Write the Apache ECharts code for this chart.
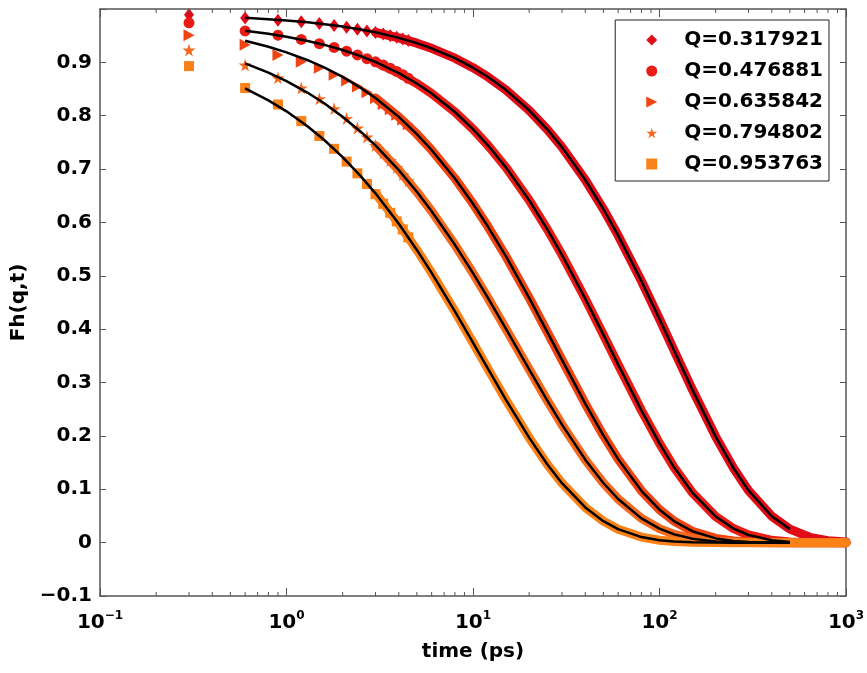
<!DOCTYPE html>
<html><head><meta charset="utf-8">
<script src="https://cdn.jsdelivr.net/npm/echarts@6/dist/echarts.min.js"></script>
<style>html,body{margin:0;padding:0;background:#fff}#c{width:867px;height:673px}</style>
</head><body><div id="c"></div>
<script>
// ---- data ----
const seriesNames = ['Q=0.317921','Q=0.476881','Q=0.635842','Q=0.794802','Q=0.953763'];
const seriesColors = ['#e00c18','#ea1c16','#f04412','#f6681e','#fa8018'];

// early (resolved) data points, time in ps
const tEarly = [0.3,0.6,0.9,1.2,1.5,1.8,2.1,2.4,2.7,3.0,3.3,3.6,3.9,4.2,4.5];
const dataQ1 = [0.989,0.983,0.979,0.976,0.973,0.969,0.966,0.962,0.959,0.956,0.953,0.950,0.947,0.944,0.941];
const dataQ2 = [0.974,0.959,0.951,0.943,0.935,0.928,0.921,0.914,0.907,0.901,0.895,0.889,0.883,0.877,0.870];
const dataQ3 = [0.951,0.933,0.914,0.901,0.890,0.877,0.866,0.855,0.844,0.833,0.822,0.812,0.802,0.793,0.784];
const dataQ4 = [0.923,0.895,0.871,0.852,0.832,0.813,0.795,0.777,0.760,0.744,0.730,0.716,0.703,0.690,0.678];
const dataQ5 = [0.893,0.852,0.821,0.790,0.762,0.738,0.714,0.692,0.672,0.653,0.635,0.618,0.602,0.587,0.572];

// curve samples (dense data band and fits), time in ps
const tCurve = [0.6,0.8,1,1.3,1.6,2,2.5,3,4,5,6,8,10,12,15,20,25,30,40,50,60,80,100,120,150,200,250,300,400,500,650,800,1000];
const curveQ1 = [0.9835,0.9810,0.9785,0.9750,0.9715,0.9670,0.9616,0.9563,0.9459,0.9360,0.9263,0.9078,0.8900,0.8730,0.8485,0.8102,0.7746,0.7412,0.6799,0.6252,0.5757,0.4902,0.4191,0.3594,0.2868,0.1987,0.1390,0.0979,0.0494,0.0253,0.0095,0.0037,0.0011];
const curveQ2 = [0.9592,0.9535,0.9480,0.9402,0.9327,0.9231,0.9117,0.9007,0.8799,0.8603,0.8417,0.8070,0.7749,0.7450,0.7035,0.6418,0.5875,0.5393,0.4570,0.3897,0.3338,0.2478,0.1859,0.1407,0.0938,0.0490,0.0262,0.0143,0.0044,0.0014,0.0003,0.0001,0];
const curveQ3 = [0.9405,0.9293,0.9188,0.9040,0.8901,0.8727,0.8522,0.8331,0.7978,0.7656,0.7358,0.6824,0.6351,0.5928,0.5368,0.4588,0.3951,0.3424,0.2604,0.2009,0.1565,0.0972,0.0618,0.0400,0.0214,0.0079,0.0031,0.0013,0.0002,0,0,0,0];
const curveQ4 = [0.8982,0.8809,0.8649,0.8430,0.8229,0.7982,0.7701,0.7443,0.6981,0.6575,0.6211,0.5581,0.5049,0.4591,0.4010,0.3248,0.2666,0.2211,0.1555,0.1118,0.0818,0.0454,0.0262,0.0155,0.0074,0.0023,0.0008,0.0003,0,0,0,0,0];
const curveQ5 = [0.8514,0.8288,0.8082,0.7799,0.7540,0.7225,0.6869,0.6546,0.5976,0.5485,0.5055,0.4333,0.3748,0.3264,0.2679,0.1967,0.1469,0.1114,0.0659,0.0403,0.0252,0.0104,0.0045,0.0020,0.0007,0.0001,0,0,0,0,0,0,0];

const fitEnd = 500;      // fits drawn up to this time
const bandStart = 3;     // where data markers merge into a continuous band

const xTickExponents = ['\u22121','0','1','2','3'];
const xMinorTicks = [];
[0.1,1,10,100].forEach(d => { for (let k = 2; k <= 9; k++) xMinorTicks.push(+(d*k).toPrecision(3)); });

const dataSets = [dataQ1,dataQ2,dataQ3,dataQ4,dataQ5];
const curveSets = [curveQ1,curveQ2,curveQ3,curveQ4,curveQ5];

// ---- chart ----
const FONT = 'DejaVu Sans';
const star = 'path://M50,0 L61,35 L98,35 L68,57 L79,91 L50,70 L21,91 L32,57 L2,35 L39,35 Z';
const triRight = 'path://M0,0 L10,5 L0,10 Z';
const symbols = ['diamond','circle',triRight,star,'rect'];
const symbolSizes = [[10,13],11,[11,12],13,10];

const series = [];
dataSets.forEach((d, i) => {
  series.push({
    name: seriesNames[i], type: 'scatter',
    data: tEarly.map((t, j) => [t, d[j]]),
    symbol: symbols[i], symbolSize: symbolSizes[i],
    itemStyle: { color: seriesColors[i], opacity: 1 },
    z: 2
  });
  series.push({
    name: seriesNames[i] + ' band', type: 'line',
    data: tCurve.map((t, j) => [t, curveSets[i][j]]).filter(p => p[0] >= bandStart),
    showSymbol: false, smooth: false,
    lineStyle: { color: seriesColors[i], width: 9, cap: 'round', join: 'round' },
    itemStyle: { color: seriesColors[i] },
    z: 2, silent: true
  });
});
curveSets.forEach((c, i) => {
  series.push({
    name: seriesNames[i] + ' fit', type: 'line',
    data: tCurve.map((t, j) => [t, c[j]]).filter(p => p[0] <= fitEnd),
    showSymbol: false, smooth: false,
    lineStyle: { color: '#000', width: 2.5, join: 'round' },
    itemStyle: { color: '#000' },
    z: 3, silent: true
  });
});
series.push({
  name: 'minor ticks', type: 'custom',
  data: xMinorTicks.map(t => [t, 0]),
  renderItem: (params, api) => {
    const t = api.value(0);
    const b = api.coord([t, -0.1]);
    const tp = api.coord([t, 1.0]);
    return { type: 'group', children: [
      { type: 'line', shape: { x1: b[0], y1: b[1], x2: b[0], y2: b[1] - 4 }, style: { stroke: '#555', lineWidth: 1 } },
      { type: 'line', shape: { x1: tp[0], y1: tp[1], x2: tp[0], y2: tp[1] + 4 }, style: { stroke: '#555', lineWidth: 1 } }
    ]};
  },
  z: 4, silent: true
});

const axisLine = { show: true, onZero: false, lineStyle: { color: '#555', width: 1.5 } };
const option = {
  animation: false,
  backgroundColor: '#fff',
  grid: { left: 100, right: 21, top: 9, bottom: 77, outerBoundsMode: 'none' },
  legend: {
    data: seriesNames, orient: 'vertical', right: 38, top: 20,
    backgroundColor: '#fff', borderColor: '#222', borderWidth: 1,
    padding: [10, 6, 7, 31], itemGap: 11, itemWidth: 11, itemHeight: 11,
    textStyle: { fontFamily: FONT, fontWeight: 'bold', fontSize: 20, color: '#000', lineHeight: 20, padding: [0, 0, 0, 22] },
    selectedMode: false
  },
  xAxis: [{
    type: 'log', logBase: 10, min: 0.1, max: 1000,
    name: 'time (ps)', nameLocation: 'middle', nameGap: 46,
    nameTextStyle: { fontFamily: FONT, fontWeight: 'bold', fontSize: 20, color: '#000' },
    axisLine: axisLine,
    axisTick: { show: true, inside: true, length: 8, lineStyle: { color: '#555', width: 1 } },
    splitLine: { show: false },
    axisLabel: {
      margin: 14,
      formatter: v => '{b|10}{e|' + xTickExponents[Math.round(Math.log10(v)) + 1] + '}',
      rich: {
        b: { fontFamily: FONT, fontWeight: 'bold', fontSize: 20, color: '#000', lineHeight: 26 },
        e: { fontFamily: FONT, fontWeight: 'bold', fontSize: 12, color: '#000', lineHeight: 12, verticalAlign: 'top' }
      }
    }
  }, {
    type: 'log', logBase: 10, min: 0.1, max: 1000, position: 'top',
    axisLine: axisLine,
    axisTick: { show: true, inside: true, length: 8, lineStyle: { color: '#555', width: 1 } },
    axisLabel: { show: false }, splitLine: { show: false }
  }],
  yAxis: [{
    type: 'value', min: -0.1, max: 1.0, interval: 0.1,
    name: 'Fh(q,t)', nameLocation: 'middle', nameGap: 48,
    nameTextStyle: { fontFamily: FONT, fontWeight: 'bold', fontSize: 20, color: '#000' },
    axisLine: axisLine,
    axisTick: { show: true, inside: true, length: 6, lineStyle: { color: '#555', width: 1 } },
    splitLine: { show: false },
    axisLabel: {
      margin: 8, fontFamily: FONT, fontWeight: 'bold', fontSize: 20, color: '#000',
      formatter: v => {
        const r = Math.round(v * 10) / 10;
        if (r >= 1) return '';
        if (r === 0) return '0';
        return (r < 0 ? '\u2212' : '') + Math.abs(r).toFixed(1);
      }
    }
  }, {
    type: 'value', min: -0.1, max: 1.0, interval: 0.1, position: 'right',
    axisLine: axisLine,
    axisTick: { show: true, inside: true, length: 6, lineStyle: { color: '#555', width: 1 } },
    axisLabel: { show: false }, splitLine: { show: false }
  }],
  series: series
};
const chart = echarts.init(document.getElementById('c'), null, { renderer: 'canvas' });
chart.setOption(option);
</script>
</body></html>
